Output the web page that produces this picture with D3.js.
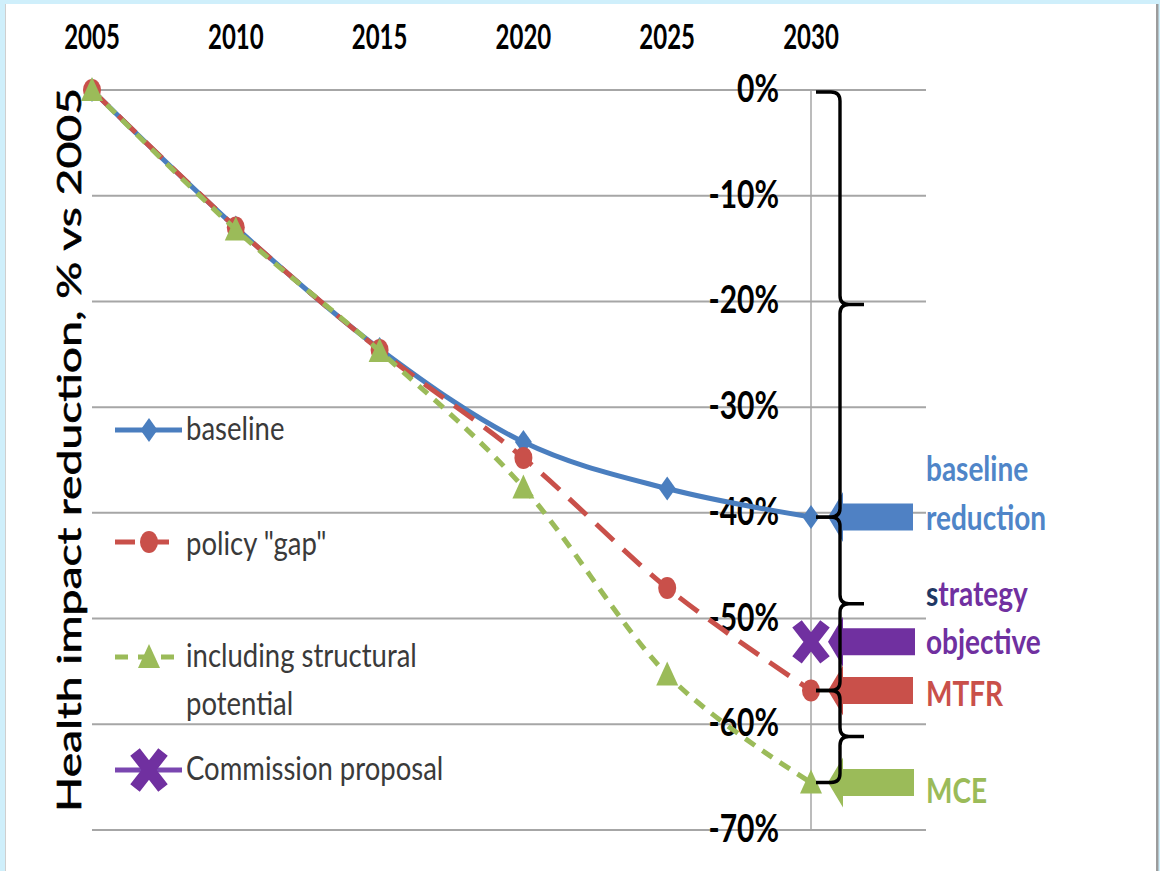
<!DOCTYPE html>
<html>
<head>
<meta charset="utf-8">
<script src="https://cdn.jsdelivr.net/npm/d3@7/dist/d3.min.js"></script>
<style>
  html, body { margin: 0; padding: 0; background: #cfeffb; }
  svg { display: block; }
</style>
</head>
<body>
<svg id="chart" width="1160" height="871"></svg>
<script>
// ---- data -------------------------------------------------------------
const years = [2005, 2010, 2015, 2020, 2025, 2030];
const baseline = [0, -13.0, -24.5, -33.3, -37.7, -40.4];
const policyGap = [0, -13.0, -24.6, -34.8, -47.1, -56.8];
const structural = [0, -13.2, -24.7, -37.6, -55.3, -65.5];
const commissionYear = 2030;
const commissionValue = -52.2;
const yTicks = [0, -10, -20, -30, -40, -50, -60, -70];
const xTicks = [2005, 2010, 2015, 2020, 2025, 2030];

const legendLabels = ["baseline", "policy \"gap\"", ["including structural", "potential"], "Commission proposal"];

// ---- styling ----------------------------------------------------------
const C = {
  blue: "#4a7ebf",
  blueText: "#4f85c8",
  red: "#c9504a",
  green: "#9bbb59",
  purple: "#7030a0",
  navy: "#1f3864",
  grid: "#a6a6a6",
  text: "#3a3a3a"
};
const FONT = "Lato, 'Open Sans', sans-serif";
const SY = 1.25; // vertical glyph stretch used throughout the figure

const svg = d3.select("#chart");

// page frame
svg.append("rect").attr("x", 5).attr("y", 4).attr("width", 1152).attr("height", 867).attr("fill", "#fff");
svg.append("line").attr("x1", 5.5).attr("x2", 5.5).attr("y1", 4).attr("y2", 871).attr("stroke", "#cfcfcf").attr("stroke-width", 1);
svg.append("rect").attr("x", 1156).attr("y", 4).attr("width", 2.5).attr("height", 867).attr("fill", "#9c9c9c");

// ---- scales -----------------------------------------------------------
const x = d3.scaleLinear().domain([2005, 2030]).range([92, 811]);
const y = d3.scaleLinear().domain([0, -70]).range([90, 830]);
const gridRight = 926;

function stretchedText(parent, tx, ty, str, opts) {
  const t = parent.append("text")
    .attr("transform", `translate(${tx},${ty}) scale(1,${opts.sy || SY})`)
    .attr("font-family", FONT)
    .attr("font-size", opts.size)
    .attr("font-weight", opts.weight || "normal")
    .attr("text-anchor", opts.anchor || "start")
    .attr("fill", opts.fill || "#000");
  if (str !== null) t.text(str);
  return t;
}

// ---- gridlines & 2030 reference line ---------------------------------
const grid = svg.append("g");
grid.selectAll("line.h").data(yTicks).join("line")
  .attr("x1", x(2005)).attr("x2", gridRight)
  .attr("y1", d => y(d)).attr("y2", d => y(d))
  .attr("stroke", C.grid).attr("stroke-width", 2);
grid.append("line")
  .attr("x1", x(2030)).attr("x2", x(2030))
  .attr("y1", y(0)).attr("y2", y(-70))
  .attr("stroke", C.grid).attr("stroke-width", 1.5);

// ---- axis labels --------------------------------------------------------
const yLab = svg.append("g");
yTicks.forEach(v => {
  stretchedText(yLab, 779, y(v) + 12, d3.format(".0%")(v / 100).replace("−", "-"),
    { size: 30, weight: "bold", anchor: "end", fill: "#000", sy: 1.3 });
});
const xLab = svg.append("g");
xTicks.forEach(v => {
  stretchedText(xLab, x(v), 49, String(v), { size: 24, weight: "bold", anchor: "middle", fill: "#000", sy: 1.4 });
});

svg.append("text")
  .attr("transform", "translate(81,450) rotate(-90)")
  .attr("font-family", FONT)
  .attr("font-size", 33)
  .attr("text-anchor", "middle")
  .attr("textLength", 724)
  .attr("lengthAdjust", "spacingAndGlyphs")
  .attr("fill", "#000")
  .attr("stroke", "#000").attr("stroke-width", 0.6)
  .text("Health impact reduction, % vs 2005");

// ---- markers ------------------------------------------------------------
function diamond(g, cx, cy, color, hw = 8.5, hh = 12) {
  g.append("path").attr("d", `M${cx},${cy - hh}L${cx + hw},${cy}L${cx},${cy + hh}L${cx - hw},${cy}Z`).attr("fill", color);
}
function dot(g, cx, cy, color) {
  g.append("ellipse").attr("cx", cx).attr("cy", cy).attr("rx", 9).attr("ry", 11).attr("fill", color);
}
function tri(g, cx, cy, color) {
  g.append("path").attr("d", `M${cx},${cy - 13}L${cx + 11},${cy + 11}L${cx - 11},${cy + 11}Z`).attr("fill", color);
}
function cross(g, cx, cy, color) {
  const hw = 14, hh = 18;
  g.append("path")
    .attr("d", `M${cx - hw},${cy - hh}L${cx + hw},${cy + hh}M${cx + hw},${cy - hh}L${cx - hw},${cy + hh}`)
    .attr("stroke", color).attr("stroke-width", 12).attr("fill", "none");
}

// ---- series -------------------------------------------------------------
const line = d3.line().x(d => x(d[0])).y(d => y(d[1])).curve(d3.curveCardinal.tension(0));
const series = [
  { values: baseline, color: C.blue, width: 5, dash: null, marker: diamond },
  { values: policyGap, color: C.red, width: 5, dash: "24,13", marker: dot },
  { values: structural, color: C.green, width: 5, dash: "12,9", marker: tri }
];
const plot = svg.append("g");
series.forEach(s => {
  const pts = years.map((yr, i) => [yr, s.values[i]]);
  plot.append("path").attr("d", line(pts))
    .attr("fill", "none").attr("stroke", s.color).attr("stroke-width", s.width)
    .attr("stroke-dasharray", s.dash);
  const mg = plot.append("g");
  pts.forEach(p => s.marker(mg, x(p[0]), y(p[1]), s.color));
});
cross(plot, x(commissionYear), y(commissionValue), C.purple);

// ---- block arrows pointing at the 2030 outcomes -------------------------
const arrowTargets = [
  { v: baseline[5], color: "#4f81c4", end: 913 },
  { v: commissionValue, color: C.purple, end: 915 },
  { v: policyGap[5], color: "#c9504a", end: 913 },
  { v: structural[5], color: C.green, end: 914 }
];
const arrows = svg.append("g");
arrowTargets.forEach(a => {
  const cy = y(a.v), tip = 828, base = 843, hh = 25, sh = 13.5;
  arrows.append("path")
    .attr("d", `M${tip},${cy}L${base},${cy - hh}L${base},${cy - sh}L${a.end},${cy - sh}L${a.end},${cy + sh}L${base},${cy + sh}L${base},${cy + hh}Z`)
    .attr("fill", a.color);
});

// ---- braces between successive 2030 levels -------------------------------
function bracePath(y0, y1, bx, endX, tipX) {
  const r = 9, mid = (y0 + y1) / 2;
  return `M${endX},${y0}L${bx - r},${y0}Q${bx},${y0} ${bx},${y0 + r}` +
    `L${bx},${mid - r}Q${bx},${mid} ${bx + r},${mid}L${tipX},${mid}` +
    `M${bx + r},${mid}Q${bx},${mid} ${bx},${mid + r}` +
    `L${bx},${y1 - r}Q${bx},${y1} ${bx - r},${y1}L${endX},${y1}`;
}
const levels = [0, baseline[5], policyGap[5], structural[5]];
const braces = svg.append("g");
for (let i = 0; i < levels.length - 1; i++) {
  braces.append("path")
    .attr("d", bracePath(y(levels[i]) + (i === 0 ? 2 : 0), y(levels[i + 1]), 840, 816, 864))
    .attr("fill", "none").attr("stroke", "#000").attr("stroke-width", 3.4);
}

// ---- side labels ------------------------------------------------------------
const side = svg.append("g");
const sideOpts = { size: 28, weight: "bold", sy: 1.25 };
stretchedText(side, 926, 481, "baseline", { ...sideOpts, fill: C.blueText });
stretchedText(side, 926, 530, "reduction", { ...sideOpts, fill: C.blueText });
const strat = stretchedText(side, 926, 606, null, { ...sideOpts, fill: C.purple });
strat.append("tspan").attr("fill", C.navy).text("s");
strat.append("tspan").text("trategy");
stretchedText(side, 926, 654, "objective", { ...sideOpts, fill: C.purple });
stretchedText(side, 926, 706, "MTFR", { ...sideOpts, fill: C.red });
stretchedText(side, 926, 803, "MCE", { ...sideOpts, fill: C.green });

// ---- legend -----------------------------------------------------------------
const legend = svg.append("g");
const lx0 = 115, lx1 = 182, lmx = 149, ltx = 186;
const legendRows = [
  { cy: 430, base: 440, color: C.blue, dash: null, marker: diamond },
  { cy: 542, base: 555, color: C.red, dash: "20,14", marker: dot },
  { cy: 657, base: 667, color: C.green, dash: "13,10", marker: tri },
  { cy: 770, base: 780, color: "#7a46b0", dash: null, marker: null }
];
legendRows.forEach((r, i) => {
  legend.append("line").attr("x1", lx0).attr("x2", lx1).attr("y1", r.cy).attr("y2", r.cy)
    .attr("stroke", r.color).attr("stroke-width", 5).attr("stroke-dasharray", r.dash);
  if (r.marker) r.marker(legend, lmx, r.cy, r.color);
  else cross(legend, lmx, r.cy, C.purple);
  const lab = legendLabels[i];
  const lo = { size: 27.5, fill: C.text, sy: 1.2 };
  if (Array.isArray(lab)) {
    lab.forEach((s, j) => stretchedText(legend, ltx, r.base + j * 48, s, lo));
  } else {
    stretchedText(legend, ltx, r.base, lab, lo);
  }
});
</script>
</body>
</html>
